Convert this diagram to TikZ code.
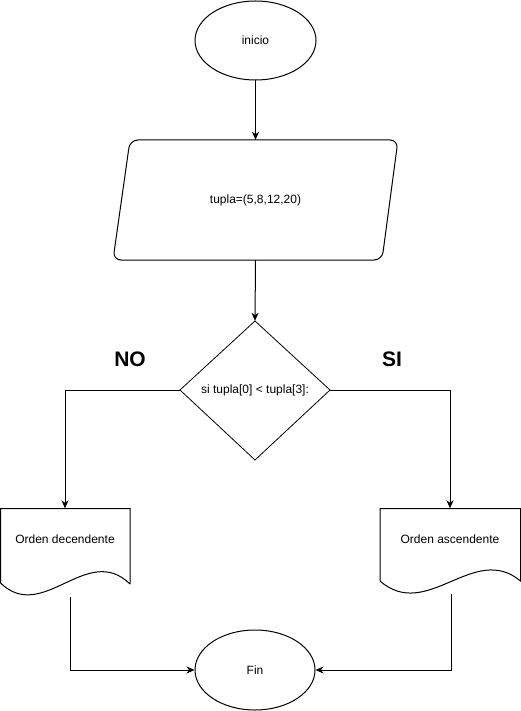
\documentclass[tikz,border=0pt]{standalone}
\usepackage{fontspec}
\setmainfont{Liberation Sans}
\usetikzlibrary{shapes.geometric,arrows.meta}
\begin{document}
\begin{tikzpicture}[x=1pt,y=-1pt,
  every node/.style={font=\fontsize{12pt}{14pt}\selectfont, inner sep=0pt},
  shapeline/.style={draw=black, line width=1pt},
  flow/.style={draw=black, line width=1pt, -{Stealth[length=8pt,width=7pt,inset=2.5pt]}},
  terminal/.style={ellipse, shapeline, minimum width=121pt},
  branchlabel/.style={font=\fontsize{21pt}{24pt}\selectfont\bfseries}
]
\useasboundingbox (0,0) rectangle (521,711);

% start terminal
\node[terminal, minimum height=79pt] (start) at (255.5,40.5) {inicio};

% input/data parallelogram with rounded corners
\draw[shapeline, rounded corners=8pt] (130,140) -- (398,140) -- (382,260) -- (113,260) -- cycle;
\node[minimum width=150pt, minimum height=120pt] (data) at (255.5,200) {tupla=(5,8,12,20)};

% decision diamond
\draw[shapeline, line width=0.8pt] (255,321) -- (330,390) -- (255,460) -- (180,390) -- cycle;
\node[minimum width=150pt, minimum height=139pt] (dec) at (255,390.5) {si tupla[0] < tupla[3]:};

% branch labels
\node[branchlabel] (no) at (130,359) {NO};
\node[branchlabel] (si) at (392,359) {SI};

% document shapes
\draw[shapeline] (130,584) -- (130,508.5) -- (0.5,508.5) -- (0.5,583)
  .. controls (43,624) and (87,542) .. (130,584);
\node[minimum width=130pt, minimum height=62pt] (docL) at (65,539.5) {Orden decendente};

\draw[shapeline] (380,581) -- (380,508.5) -- (520.5,508.5) -- (520.5,581)
  .. controls (474,542) and (427,622) .. (380,581);
\node[minimum width=140pt, minimum height=62pt] (docR) at (450,539.5) {Orden ascendente};

% end terminal
\node[terminal, minimum width=120pt, minimum height=80pt] (fin) at (255,670) {Fin};

% outgoing points below the documents
\coordinate (docLout) at (70,597);
\coordinate (docRout) at (451,594);

% connectors
\draw[flow] (start.south) -- (data.north);
\draw[flow] (data.south) -- (dec.north);
\draw[flow] (dec.west) -| (docL.north);
\draw[flow] (dec.east) -| (docR.north);
\draw[flow] (docLout) |- (fin.west);
\draw[flow] (docRout) |- (fin.east);
\end{tikzpicture}
\end{document}
